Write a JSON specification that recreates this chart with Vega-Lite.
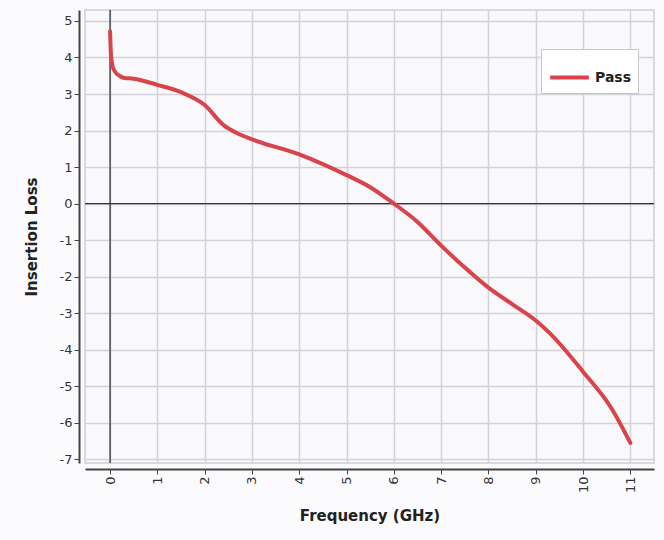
{
  "$schema": "https://vega.github.io/schema/vega-lite/v6.json",
  "autosize": "none",
  "width": 569,
  "height": 453,
  "padding": {"left": 85, "top": 10, "right": 10, "bottom": 77},
  "background": "#fbfbfd",
  "config": {
    "font": "DejaVu Sans",
    "view": {"stroke": "#cfcfd4", "strokeWidth": 1.5, "fill": "#f9f9fc"}
  },
  "datasets": {
    "curve": [
      {"f": 0.0, "loss": 4.72, "series": "Pass"},
      {"f": 0.02, "loss": 4.05, "series": "Pass"},
      {"f": 0.05, "loss": 3.78, "series": "Pass"},
      {"f": 0.1, "loss": 3.62, "series": "Pass"},
      {"f": 0.2, "loss": 3.5, "series": "Pass"},
      {"f": 0.3, "loss": 3.44, "series": "Pass"},
      {"f": 0.5, "loss": 3.42, "series": "Pass"},
      {"f": 1.0, "loss": 3.25, "series": "Pass"},
      {"f": 1.5, "loss": 3.05, "series": "Pass"},
      {"f": 2.0, "loss": 2.7, "series": "Pass"},
      {"f": 2.4, "loss": 2.15, "series": "Pass"},
      {"f": 2.7, "loss": 1.92, "series": "Pass"},
      {"f": 3.0, "loss": 1.76, "series": "Pass"},
      {"f": 4.0, "loss": 1.35, "series": "Pass"},
      {"f": 5.0, "loss": 0.78, "series": "Pass"},
      {"f": 5.5, "loss": 0.45, "series": "Pass"},
      {"f": 6.0, "loss": 0.0, "series": "Pass"},
      {"f": 6.5, "loss": -0.5, "series": "Pass"},
      {"f": 7.0, "loss": -1.15, "series": "Pass"},
      {"f": 7.5, "loss": -1.75, "series": "Pass"},
      {"f": 8.0, "loss": -2.3, "series": "Pass"},
      {"f": 8.5, "loss": -2.75, "series": "Pass"},
      {"f": 9.0, "loss": -3.2, "series": "Pass"},
      {"f": 9.3, "loss": -3.55, "series": "Pass"},
      {"f": 10.0, "loss": -4.6, "series": "Pass"},
      {"f": 10.6, "loss": -5.6, "series": "Pass"},
      {"f": 11.0, "loss": -6.55, "series": "Pass"}
    ],
    "zero": [{"v": 0}]
  },
  "encoding": {
    "x": {
      "type": "quantitative",
      "scale": {"domain": [-0.53, 11.5], "nice": false, "zero": false},
      "axis": {
        "title": "Frequency (GHz)", "values": [0,1,2,3,4,5,6,7,8,9,10,11],
        "labelAngle": -90, "labelFontSize": 13, "labelColor": "#333", "labelOverlap": false,
        "titleFontSize": 15, "titleFontWeight": "bold", "titleColor": "#222", "titlePadding": 16,
        "offset": 6, "domainColor": "#444", "domainWidth": 2, "tickColor": "#444", "tickSize": 5,
        "grid": true, "gridColor": "#d2d2d8", "gridWidth": 1.5
      }
    },
    "y": {
      "type": "quantitative",
      "scale": {"domain": [-7.1, 5.3], "nice": false, "zero": false},
      "axis": {
        "title": "Insertion Loss", "values": [5,4,3,2,1,0,-1,-2,-3,-4,-5,-6,-7],
        "labelExpr": "'' + datum.value", "labelOverlap": false,
        "labelFontSize": 13, "labelColor": "#333",
        "titleFontSize": 15, "titleFontWeight": "bold", "titleColor": "#222", "titlePadding": 20,
        "offset": 6, "domainColor": "#444", "domainWidth": 2, "tickColor": "#444", "tickSize": 5,
        "grid": true, "gridColor": "#d2d2d8", "gridWidth": 1.5
      }
    }
  },
  "layer": [
    {
      "data": {"name": "zero"},
      "mark": {"type": "rule", "color": "#333333", "strokeWidth": 1.3},
      "encoding": {"y": {"field": "v"}}
    },
    {
      "data": {"name": "zero"},
      "mark": {"type": "rule", "color": "#333333", "strokeWidth": 1.3},
      "encoding": {"x": {"field": "v"}}
    },
    {
      "data": {"name": "curve"},
      "mark": {"type": "line", "strokeWidth": 4, "interpolate": "monotone", "strokeCap": "round"},
      "encoding": {
        "x": {"field": "f"},
        "y": {"field": "loss"},
        "color": {
          "field": "series", "type": "nominal",
          "scale": {"range": ["#d9434b"]},
          "legend": {
            "title": null, "orient": "none", "legendX": 456, "legendY": 39,
            "symbolType": "stroke", "symbolStrokeWidth": 4, "symbolSize": 1500,
            "labelFontSize": 14, "labelFontWeight": "bold", "labelColor": "#222",
            "strokeColor": "#c8c8cc", "fillColor": "#ffffff", "padding": 7
          }
        }
      }
    }
  ]
}
